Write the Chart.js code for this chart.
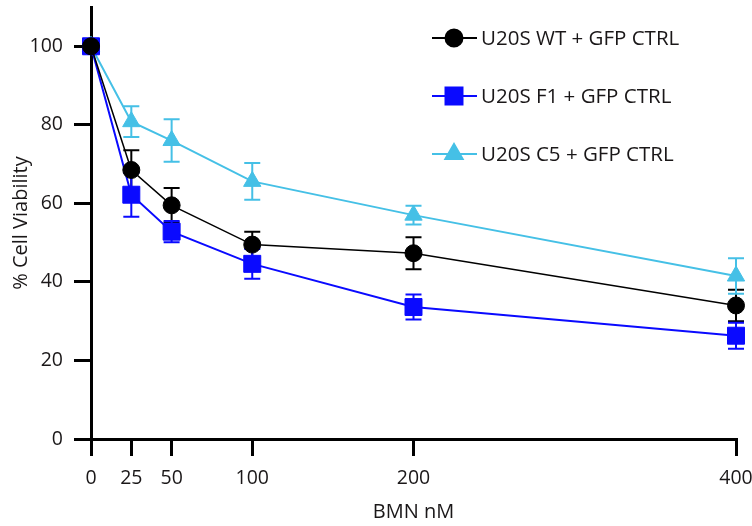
<!DOCTYPE html>
<html lang="en">
<head>
    <meta charset="UTF-8">
    <title>Cell Viability vs BMN</title>
    <script src="https://cdn.jsdelivr.net/npm/chart.js"></script>
    <style>
        body {
            margin: 0;
            padding: 0;
            background: #fff;
        }

        .chart-wrap {
            width: 752px;
            height: 526px;
        }
    </style>
</head>
<body>
<div class="chart-wrap">
    <canvas id="viability-chart" width="752" height="526"></canvas>
</div>

<script>
    // BMN concentrations (nM) and tick values
    const doses = [0, 25, 50, 100, 200, 400];
    const xTicks = [0, 25, 50, 100, 200, 400];
    const yTicks = [0, 20, 40, 60, 80, 100];

    const seriesNames = ['U20S WT + GFP CTRL', 'U20S F1 + GFP CTRL', 'U20S C5 + GFP CTRL'];

    // mean % viability
    const wtMean = [100, 68.5, 59.5, 49.5, 47.3, 34];
    const f1Mean = [100, 62.2, 52.8, 44.6, 33.6, 26.3];
    const c5Mean = [100, 80.8, 76, 65.6, 57, 41.5];

    // error (+/-)
    const wtErr = [0, 5, 4.4, 3.3, 4.1, 4];
    const f1Err = [0, 5.6, 2.7, 3.8, 3.2, 3.3];
    const c5Err = [0, 3.9, 5.4, 4.7, 2.4, 4.5];

    const colors = ['#000000', '#0a0aff', '#45c0e6'];
    const markers = ['circle', 'rect', 'triangle'];
    const markerSizes = [8.5, 12, 10];

    const FONT = '"Open Sans", Arial, sans-serif';
    const TEXT = '#1a1718';

    function toPoints(values) {
        return doses.map((d, i) => ({ x: d, y: values[i] }));
    }

    // draws the vertical error bars with caps, under the markers
    const errorBars = {
        id: 'errorBars',
        beforeDatasetsDraw(chart) {
            const ctx = chart.ctx;
            const xs = chart.scales.x;
            const ys = chart.scales.y;
            const cap = 8;
            chart.data.datasets.forEach((ds) => {
                ctx.save();
                ctx.strokeStyle = ds.borderColor;
                ctx.lineWidth = 2;
                ds.errors.forEach((e, i) => {
                    if (!e) return;
                    const p = ds.data[i];
                    const px = xs.getPixelForValue(p.x);
                    const top = ys.getPixelForValue(p.y + e);
                    const bot = ys.getPixelForValue(p.y - e);
                    ctx.beginPath();
                    ctx.moveTo(px, top);
                    ctx.lineTo(px, bot);
                    ctx.moveTo(px - cap, top);
                    ctx.lineTo(px + cap, top);
                    ctx.moveTo(px - cap, bot);
                    ctx.lineTo(px + cap, bot);
                    ctx.stroke();
                });
                ctx.restore();
            });
        }
    };

    // legend in the upper right: line + marker + label
    const sideLegend = {
        id: 'sideLegend',
        afterDraw(chart) {
            const ctx = chart.ctx;
            const rows = [38, 96, 154];
            ctx.save();
            chart.data.datasets.forEach((ds, i) => {
                const y = rows[i];
                ctx.strokeStyle = ds.borderColor;
                ctx.lineWidth = 2;
                ctx.beginPath();
                ctx.moveTo(432, y);
                ctx.lineTo(477, y);
                ctx.stroke();
                ctx.fillStyle = ds.borderColor;
                Chart.helpers.drawPoint(ctx, {
                    pointStyle: ds.pointStyle,
                    radius: ds.pointRadius,
                    rotation: 0,
                    borderWidth: 1
                }, 454, y);
                ctx.fillStyle = TEXT;
                ctx.font = '20.5px ' + FONT;
                ctx.textBaseline = 'middle';
                ctx.textAlign = 'left';
                ctx.fillText(ds.label, 481, y + 1);
            });
            ctx.restore();
        }
    };

    function buildDatasets() {
        const means = [wtMean, f1Mean, c5Mean];
        const errs = [wtErr, f1Err, c5Err];
        return seriesNames.map((name, i) => ({
            label: name,
            data: toPoints(means[i]),
            errors: errs[i],
            borderColor: colors[i],
            backgroundColor: colors[i],
            pointBackgroundColor: colors[i],
            pointBorderColor: colors[i],
            pointStyle: markers[i],
            pointRadius: markerSizes[i],
            pointBorderWidth: 1,
            borderWidth: i === 0 ? 1.5 : 2,
            tension: 0,
            clip: false
        }));
    }

    function drawChart() {
        const ctx = document.getElementById('viability-chart').getContext('2d');
        new Chart(ctx, {
            type: 'line',
            data: { datasets: buildDatasets() },
            plugins: [errorBars, sideLegend],
            options: {
                responsive: false,
                animation: false,
                layout: {
                    // markers overflow the plot edge, so skip the automatic padding for them
                    autoPadding: false,
                    padding: { top: 7, right: 16, left: 0, bottom: 0 }
                },
                plugins: {
                    legend: { display: false },
                    tooltip: { enabled: false }
                },
                scales: {
                    x: {
                        type: 'linear',
                        min: 0,
                        max: 400,
                        afterBuildTicks: s => { s.ticks = xTicks.map(v => ({ value: v })); },
                        afterFit: s => {
                            s.height = 87;
                            s.paddingLeft = 0;
                            s.paddingRight = 0;
                        },
                        grid: {
                            drawOnChartArea: false,
                            drawTicks: true,
                            tickLength: 17,
                            lineWidth: 3,
                            color: '#000'
                        },
                        border: { display: true, width: 3, color: '#000' },
                        ticks: {
                            color: TEXT,
                            font: { family: FONT, size: 19.5 },
                            padding: 11,
                            maxRotation: 0,
                            autoSkip: false
                        },
                        title: {
                            display: true,
                            text: 'BMN nM',
                            color: TEXT,
                            font: { family: FONT, size: 20 },
                            padding: { top: 0, bottom: 2 }
                        }
                    },
                    y: {
                        min: 0,
                        max: 110,
                        afterBuildTicks: s => { s.ticks = yTicks.map(v => ({ value: v })); },
                        afterFit: s => {
                            s.width = 91;
                            s.paddingTop = 0;
                            s.paddingBottom = 0;
                        },
                        grid: {
                            drawOnChartArea: false,
                            drawTicks: true,
                            tickLength: 17,
                            lineWidth: 3,
                            color: '#000'
                        },
                        border: { display: true, width: 3, color: '#000' },
                        ticks: {
                            color: TEXT,
                            font: { family: FONT, size: 19.5 },
                            padding: 11
                        },
                        title: {
                            display: true,
                            text: '% Cell Viability',
                            color: TEXT,
                            font: { family: FONT, size: 20 },
                            padding: { top: 9, bottom: 0 }
                        }
                    }
                }
            }
        });
    }

    document.addEventListener('DOMContentLoaded', drawChart);
</script>
</body>
</html>
